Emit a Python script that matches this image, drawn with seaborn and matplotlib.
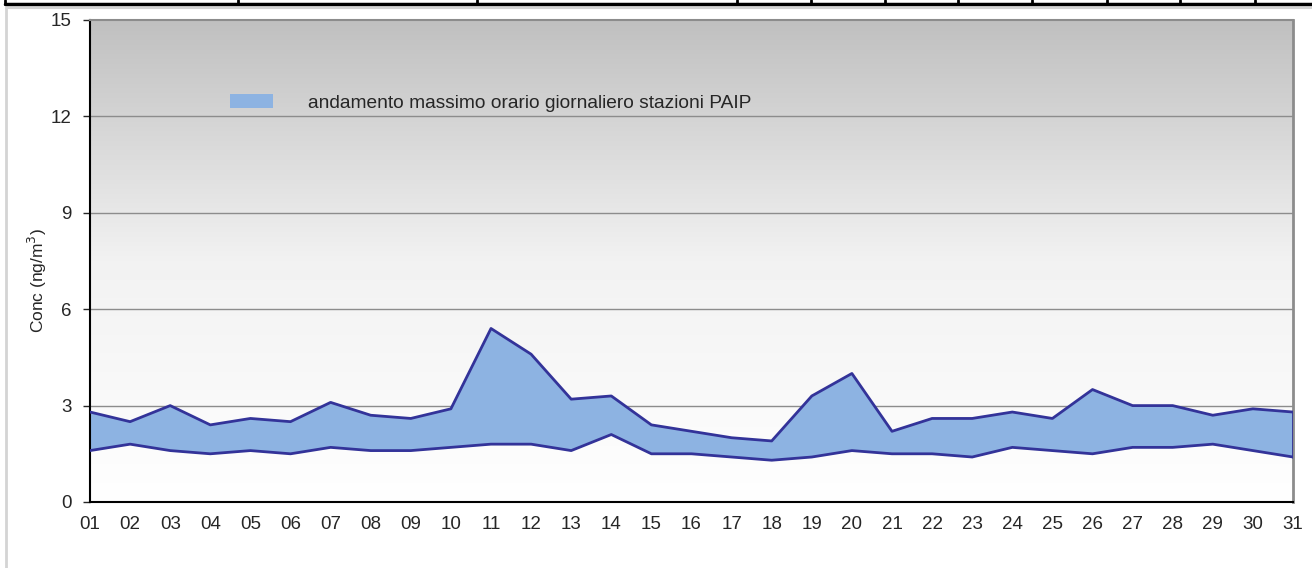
import numpy as np
import pandas as pd
import matplotlib
matplotlib.use("Agg")
import matplotlib.pyplot as plt
import seaborn as sns
from matplotlib.lines import Line2D
from matplotlib.patches import Patch

sns.set_style("white")
plt.rcParams['font.family'] = ['Liberation Sans', 'DejaVu Sans']

# daily values (ng/m3), max and min of hourly maxima across PAIP stations
days = ['01', '02', '03', '04', '05', '06', '07', '08', '09', '10',
        '11', '12', '13', '14', '15', '16', '17', '18', '19', '20',
        '21', '22', '23', '24', '25', '26', '27', '28', '29', '30', '31']
upper = [2.8, 2.5, 3.0, 2.4, 2.6, 2.5, 3.1, 2.7, 2.6, 2.9,
         5.4, 4.6, 3.2, 3.3, 2.4, 2.2, 2.0, 1.9, 3.3, 4.0,
         2.2, 2.6, 2.6, 2.8, 2.6, 3.5, 3.0, 3.0, 2.7, 2.9, 2.8]
lower = [1.6, 1.8, 1.6, 1.5, 1.6, 1.5, 1.7, 1.6, 1.6, 1.7,
         1.8, 1.8, 1.6, 2.1, 1.5, 1.5, 1.4, 1.3, 1.4, 1.6,
         1.5, 1.5, 1.4, 1.7, 1.6, 1.5, 1.7, 1.7, 1.8, 1.6, 1.4]
yticks = [0, 3, 6, 9, 12, 15]
legend_label = "andamento massimo orario giornaliero stazioni PAIP"

df = pd.DataFrame({'day': days, 'pos': range(len(days)),
                   'upper': upper, 'lower': lower})

fill_col = '#8db3e2'
line_col = '#333399'

fig = plt.figure(figsize=(13.12, 5.68), dpi=100)
W, H = 1312, 568
ax = fig.add_axes([90 / W, (H - 502) / H, (1293 - 90) / W, (502 - 20) / H])

# grey-to-white background gradient
grad = np.linspace(0, 1, 256).reshape(-1, 1)
ax.imshow(grad, extent=[0, 1, 0, 1], transform=ax.transAxes,
          cmap=matplotlib.colors.LinearSegmentedColormap.from_list(
              'bg', ['#ffffff', '#f2f2f2', '#c0c0c0'], N=256),
          origin='lower', aspect='auto', zorder=0)

for t in yticks[1:-1]:
    ax.axhline(t, color='#8c8c8c', lw=1.0, zorder=1)

ax.fill_between(df['pos'], df['lower'], df['upper'], color=fill_col,
                lw=0, zorder=2)
sns.lineplot(data=df, x='pos', y='upper', color=line_col, lw=2, ax=ax,
             zorder=3)
sns.lineplot(data=df, x='pos', y='lower', color=line_col, lw=2, ax=ax,
             zorder=3)
ax.plot([df['pos'].iloc[-1]] * 2, [lower[-1], upper[-1]], color=line_col,
        lw=2, zorder=3)

ax.set_xlim(0, len(days) - 1)
ax.set_ylim(0, 15)
ax.set_xticks(df['pos'])
ax.set_xticklabels(days)
ax.set_yticks(yticks)
ax.tick_params(axis='x', length=0, pad=10, labelsize=13.5)
ax.tick_params(axis='y', length=5, width=1, direction='out', pad=8,
               labelsize=13.5, left=True)
ax.set_xlabel('')
ax.set_ylabel('Conc (ng/m$^3$)', fontsize=12.5)
ax.yaxis.set_label_coords(-0.034, 0.46)

ax.spines['left'].set_color('black')
ax.spines['bottom'].set_color('black')
ax.spines['left'].set_linewidth(1.5)
ax.spines['bottom'].set_linewidth(1.5)
ax.spines['top'].set_color('#8c8c8c')
ax.spines['top'].set_linewidth(1.5)
ax.spines['right'].set_color('#8c8c8c')
ax.spines['right'].set_linewidth(2)

handle = Patch(facecolor=fill_col, edgecolor='none')
ax.legend([handle], [legend_label], loc='upper left',
          bbox_to_anchor=(123 / (1293 - 90), 1 - 57 / 482), frameon=False,
          fontsize=13.8, handlelength=2.25, handleheight=0.72,
          handletextpad=1.8)

# outer chart frame and the bottom of the table above it
fig.add_artist(Line2D([6 / W, 6 / W], [0, 1 - 8 / H], color='#d4d4d4',
                      lw=2, transform=fig.transFigure))
fig.add_artist(Line2D([6 / W, 1], [1 - 8 / H, 1 - 8 / H], color='#d4d4d4',
                      lw=1.5, transform=fig.transFigure))
fig.add_artist(Line2D([5 / W, 1], [1 - 4 / H, 1 - 4 / H], color='black',
                      lw=2.5, transform=fig.transFigure))
for xd in [5, 238, 477, 737, 811, 885, 958, 1032, 1107, 1180, 1255]:
    fig.add_artist(Line2D([xd / W, xd / W], [1 - 4 / H, 1], color='black',
                          lw=2, transform=fig.transFigure))

fig.savefig('out.png', dpi=100)
